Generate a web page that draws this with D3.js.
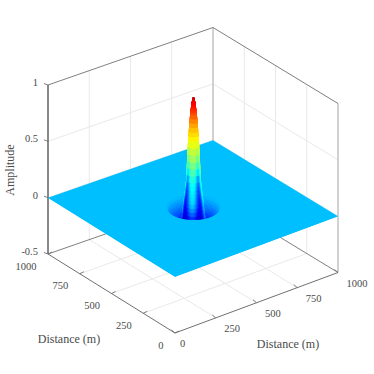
<!DOCTYPE html>
<html><head><meta charset="utf-8">
<script src="https://cdn.jsdelivr.net/npm/d3@7"></script>
<style>html,body{margin:0;background:#fff}svg{display:block}text{font-family:"Liberation Serif",serif;fill:#4a4a4a}</style>
</head><body><svg id="c" width="374" height="374"></svg>
<script>
const distanceTicks=[0,250,500,750,1000];
const amplitudeTicks=[-0.5,0,0.5,1];
const amplitudeLabels=["-0.5","0","0.5","1"];
const axisTitleX="Distance (m)",axisTitleY="Distance (m)",axisTitleZ="Amplitude";
const peakCentre=[500,500];
// radial profile of the lobe (m, amplitude)
const radii=[0,5,10,14,19,24,29,34,40,46,52,60,70,80,90,100,110,120,130];
const amplitude=[.98,.95,.89,.83,.72,.6,.42,.24,.14,.06,-.04,-.15,-.24,-.28,-.27,-.2,-.13,-.07,0];
// colour values by bearing from the viewer (deg) and radius
const bearings=[0,15,30,45,60,75,90,105,120,135,150,165,180];
const colourValues=[
[.9,.85,.78,.7,.56,.45,.3,.12,.08,.05,-.15,-.4,-.42,-.4,-.34,-.27,-.16,-.08,0],
[.9,.85,.78,.7,.56,.45,.3,.1,.04,-.02,-.2,-.4,-.42,-.4,-.34,-.27,-.16,-.08,0],
[.9,.85,.78,.7,.56,.45,.26,-.02,-.12,-.18,-.3,-.4,-.42,-.4,-.34,-.27,-.16,-.08,0],
[.9,.85,.78,.7,.56,.45,.2,-.14,-.22,-.27,-.35,-.42,-.42,-.4,-.34,-.27,-.16,-.08,0],
[.9,.85,.78,.7,.56,.45,.24,-.04,-.14,-.2,-.26,-.32,-.38,-.38,-.34,-.27,-.16,-.08,0],
[.9,.85,.78,.7,.56,.45,.3,.14,.08,.02,-.1,-.24,-.34,-.36,-.33,-.27,-.16,-.08,0],
[.9,.85,.78,.7,.56,.45,.3,.14,.09,.04,-.06,-.17,-.3,-.34,-.32,-.26,-.16,-.08,0],
[.9,.85,.78,.7,.56,.45,.3,.14,.09,.04,-.06,-.17,-.3,-.36,-.33,-.27,-.16,-.08,0],
[.9,.85,.78,.7,.56,.45,.3,.14,.09,.04,-.06,-.17,-.32,-.38,-.34,-.27,-.16,-.08,0],
[.9,.85,.78,.7,.56,.45,.3,.14,.09,.04,-.06,-.17,-.32,-.38,-.34,-.28,-.17,-.08,0],
[.9,.85,.78,.7,.56,.45,.3,.14,.09,.04,-.06,-.17,-.32,-.38,-.35,-.28,-.17,-.08,0],
[.9,.85,.78,.7,.56,.45,.3,.14,.09,.04,-.06,-.17,-.32,-.38,-.35,-.28,-.17,-.08,0],
[.9,.85,.78,.7,.56,.45,.3,.14,.09,.04,-.06,-.17,-.32,-.38,-.35,-.28,-.17,-.08,0]];

const colorDomain=[-.4545,1];
const jet=t=>{const c=v=>Math.round(255*Math.max(0,Math.min(1,v)));
  return `rgb(${c(1.5-Math.abs(4*t-3))},${c(1.5-Math.abs(4*t-2))},${c(1.5-Math.abs(4*t-1))})`;};
const colorScale=d3.scaleSequential(jet).domain(colorDomain).clamp(true);

const unit=d3.scaleLinear().domain([0,1000]).range([0,1]);
const zScale=d3.scaleLinear().domain([-.5,1]).range([0,-169]);
// box corners of the floor on screen
const F=[175,333],R=[338,272.5],L=[48,254],B=[213,196.5];
function project(x,y,z){const u=unit(x),v=unit(y);
  const a=k=>(1-u)*(1-v)*F[k]+u*(1-v)*R[k]+(1-u)*v*L[k]+u*v*B[k];
  return [a(0),a(1)+zScale(z)];}
const svg=d3.select("#c");
const line=(g,a,b,col,w)=>g.append("line").attr("x1",a[0]).attr("y1",a[1]).attr("x2",b[0]).attr("y2",b[1]).attr("stroke",col).attr("stroke-width",w);
const gridCol="#e9e9e9";
const g=svg.append("g");
const inner=distanceTicks.slice(1,-1);
const zMin=amplitudeTicks[0],zMax=amplitudeTicks[3];
inner.forEach(t=>{
  line(g,project(t,0,zMin),project(t,1000,zMin),gridCol,1);
  line(g,project(0,t,zMin),project(1000,t,zMin),gridCol,1);
  line(g,project(t,1000,zMin),project(t,1000,zMax),gridCol,1);
  line(g,project(1000,t,zMin),project(1000,t,zMax),gridCol,1);
});
amplitudeTicks.slice(1,-1).forEach(t=>{
  line(g,project(0,1000,t),project(1000,1000,t),gridCol,1);
  line(g,project(1000,1000,t),project(1000,0,t),gridCol,1);
});
// back edges
line(g,project(1000,1000,zMin),project(1000,1000,zMax),"#c6c6c6",1.6);
line(g,project(1000,0,zMin),project(1000,0,zMax),"#c6c6c6",1.6);
line(g,project(0,1000,zMax),project(1000,1000,zMax),"#808080",1);
line(g,project(1000,1000,zMax),project(1000,0,zMax),"#808080",1);
line(g,project(0,1000,zMin),project(1000,1000,zMin),"#808080",1);
line(g,project(1000,1000,zMin),project(1000,0,zMin),"#808080",1);
line(g,project(0,1000,zMin),project(0,0,zMin),"#707070",1);
line(g,project(0,0,zMin),project(1000,0,zMin),"#707070",1);
line(g,project(0,1000,zMin),project(0,1000,zMax),"#4a4a4a",1.3);

// flat sheet at amplitude 0
const flat=colorScale(0);
const poly=pts=>pts.map(p=>p.map(v=>v.toFixed(2)).join(",")).join(" ");
svg.append("polygon").attr("points",poly([project(0,0,0),project(1000,0,0),project(1000,1000,0),project(0,1000,0)])).attr("fill",flat);

// lobe mesh
const pt=(r,deg,z)=>{const a=(deg+225)*Math.PI/180;return [peakCentre[0]+r*Math.cos(a),peakCentre[1]+r*Math.sin(a),z];};
const colourAt=(deg,i)=>{const d=Math.abs(((deg+540)%360)-180),b=Math.min(bearings.length-2,Math.floor(d/15)),f=d/15-b;
  return colourValues[b][i]*(1-f)+colourValues[b+1][i]*f;};
const cells=[];const nA=4,nR=3;
for(let s=0;s<24;s++)for(let a=0;a<nA;a++){
  const d0=s*15+a*15/nA,d1=d0+15/nA;
  for(let i=0;i<radii.length-1;i++)for(let k=0;k<nR;k++){
    const f0=k/nR,f1=(k+1)/nR;
    const rr=f=>radii[i]+(radii[i+1]-radii[i])*f,zz=f=>amplitude[i]+(amplitude[i+1]-amplitude[i])*f;
    const ps=[pt(rr(f0),d0,zz(f0)),pt(rr(f1),d0,zz(f1)),pt(rr(f1),d1,zz(f1)),pt(rr(f0),d1,zz(f0))];
    const dm=(d0+d1)/2,fm=(f0+f1)/2;
    const cv=colourAt(dm,i)*(1-fm)+colourAt(dm,i+1)*fm;
    const cp=pt(rr(fm),dm,0);
    cells.push({pts:ps.map(p=>project(...p)),c:colorScale(cv),depth:cp[0]+cp[1]});
  }}
cells.sort((p,q)=>q.depth-p.depth);
svg.append("g").selectAll("polygon").data(cells).join("polygon")
  .attr("points",d=>poly(d.pts)).attr("fill",d=>d.c).attr("stroke",d=>d.c).attr("stroke-width",.35);

// near half of the sheet, in front of the dip
const rim=d3.range(90,-90.1,-5).map(d=>project(...pt(radii[radii.length-1],d,0)));
svg.append("polygon").attr("points",poly([project(0,1000,0),project(0,0,0),project(1000,0,0),...rim])).attr("fill",flat);

// ticks and labels
const t=svg.append("g");
const fs=10.5;
distanceTicks.forEach(v=>{
  const a=project(v,0,zMin);
  line(t,a,[a[0]-3.5,a[1]-3],"#707070",.9);
  t.append("text").attr("x",a[0]+(v===0?5:8.5)).attr("y",a[1]+14).attr("font-size",fs).text(v);
  const b=project(0,v,zMin);
  line(t,b,[b[0]+4,b[1]-2],"#707070",.9);
  t.append("text").attr("x",b[0]-11.5).attr("y",b[1]+15.5).attr("text-anchor","end").attr("font-size",fs).text(v);
});
amplitudeTicks.forEach((v,i)=>{
  const a=project(0,1000,v);
  line(t,a,[a[0]-4,a[1]-1.5],"#707070",.9);
  t.append("text").attr("x",a[0]-10).attr("y",a[1]+1).attr("text-anchor","end").attr("font-size",fs).text(amplitudeLabels[i]);
});
t.append("text").attr("x",69).attr("y",343).attr("text-anchor","middle").attr("font-size",12).text(axisTitleY);
t.append("text").attr("x",288).attr("y",348).attr("text-anchor","middle").attr("font-size",12).text(axisTitleX);
t.append("text").attr("transform","translate(14,170) rotate(-90)").attr("text-anchor","middle").attr("font-size",12).text(axisTitleZ);
</script></body></html>
